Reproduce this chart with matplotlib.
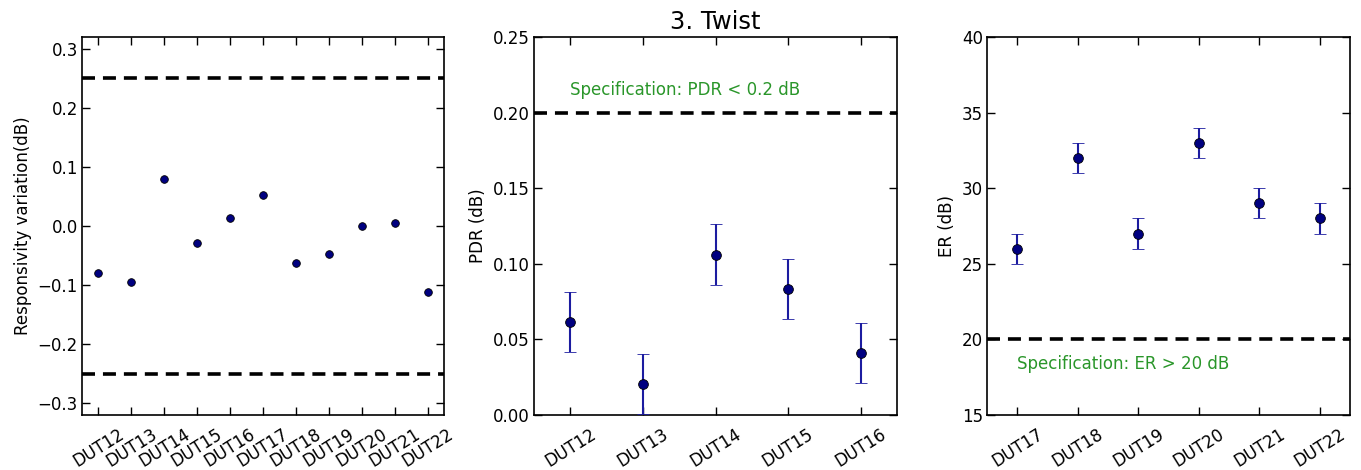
import matplotlib
matplotlib.use("Agg")
import matplotlib.pyplot as plt
import numpy as np

# Panel 1: responsivity variation
resp_labels = ["DUT12", "DUT13", "DUT14", "DUT15", "DUT16", "DUT17",
               "DUT18", "DUT19", "DUT20", "DUT21", "DUT22"]
resp_values = [-0.080, -0.094, 0.079, -0.029, 0.0135, 0.053,
               -0.063, -0.048, 0.0, 0.0056, -0.112]
resp_limits = [0.25, -0.25]

# Panel 2: PDR
pdr_labels = ["DUT12", "DUT13", "DUT14", "DUT15", "DUT16"]
pdr_values = [0.0615, 0.0205, 0.106, 0.0835, 0.041]
pdr_err = [0.02, 0.02, 0.02, 0.02, 0.02]
pdr_spec = 0.2

# Panel 3: ER
er_labels = ["DUT17", "DUT18", "DUT19", "DUT20", "DUT21", "DUT22"]
er_values = [26, 32, 27, 33, 29, 28]
er_err = [1, 1, 1, 1, 1, 1]
er_spec = 20

MARKER = "#000080"
ECOLOR = "#1c1ca0"
SPEC_GREEN = "#2a962a"
DASH = dict(color="black", linestyle="--", linewidth=2.6, dashes=(3.6, 2.2))

plt.rcParams["font.family"] = "DejaVu Sans"
plt.rcParams["font.size"] = 12

fig = plt.figure(figsize=(13.61, 4.70), dpi=100)
W, H = 1361, 470
bottom, top = 415, 37


def make_ax(left, right):
    return fig.add_axes([left / W, 1 - bottom / H, (right - left) / W, (bottom - top) / H])


def style(ax, labels):
    x = np.arange(len(labels))
    ax.set_xticks(x)
    ax.set_xticklabels(labels, rotation=32, ha="center")
    ax.set_xlim(-0.5, len(labels) - 0.5)
    ax.tick_params(direction="in", top=True, right=True, length=6, width=1,
                   labelsize=12)
    ax.tick_params(axis="x", pad=7)
    ax.tick_params(axis="y", pad=3)
    for s in ax.spines.values():
        s.set_linewidth(1.2)


ax1 = make_ax(82, 444)
ax1.plot(np.arange(len(resp_labels)), resp_values, "o", color=MARKER,
         markeredgecolor="black", markeredgewidth=0.6, markersize=5.5, zorder=3)
for lim in resp_limits:
    ax1.axhline(lim, **DASH)
ax1.set_ylim(-0.32, 0.32)
ax1.set_yticks([-0.3, -0.2, -0.1, 0.0, 0.1, 0.2, 0.3])
ax1.set_yticklabels(["\u22120.3", "\u22120.2", "\u22120.1", "0.0", "0.1", "0.2", "0.3"])
ax1.set_ylabel("Responsivity variation(dB)", fontsize=12)
style(ax1, resp_labels)

ax2 = make_ax(534, 897)
ax2.errorbar(np.arange(len(pdr_labels)), pdr_values, yerr=pdr_err, fmt="o",
             color=MARKER, ecolor=ECOLOR, elinewidth=1.5, capsize=4.3, capthick=1.5,
             markeredgecolor="black", markeredgewidth=0.6, markersize=7, zorder=3)
ax2.axhline(pdr_spec, **DASH)
ax2.text(0, 0.215, "Specification: PDR < 0.2 dB", color=SPEC_GREEN,
         fontsize=12, ha="left", va="center")
ax2.set_ylim(0, 0.25)
ax2.set_yticks([0.0, 0.05, 0.10, 0.15, 0.20, 0.25])
ax2.set_yticklabels(["0.00", "0.05", "0.10", "0.15", "0.20", "0.25"])
ax2.set_ylabel("PDR (dB)", fontsize=12)
ax2.set_title("3. Twist", fontsize=17.5, pad=6)
style(ax2, pdr_labels)

ax3 = make_ax(987, 1350)
ax3.errorbar(np.arange(len(er_labels)), er_values, yerr=er_err, fmt="o",
             color=MARKER, ecolor=ECOLOR, elinewidth=1.5, capsize=4.3, capthick=1.5,
             markeredgecolor="black", markeredgewidth=0.6, markersize=7, zorder=3)
ax3.axhline(er_spec, **DASH)
ax3.text(0, 18.4, "Specification: ER > 20 dB", color=SPEC_GREEN,
         fontsize=12, ha="left", va="center")
ax3.set_ylim(15, 40)
ax3.set_yticks([15, 20, 25, 30, 35, 40])
ax3.set_ylabel("ER (dB)", fontsize=12)
style(ax3, er_labels)

fig.savefig("out.png", dpi=100)
